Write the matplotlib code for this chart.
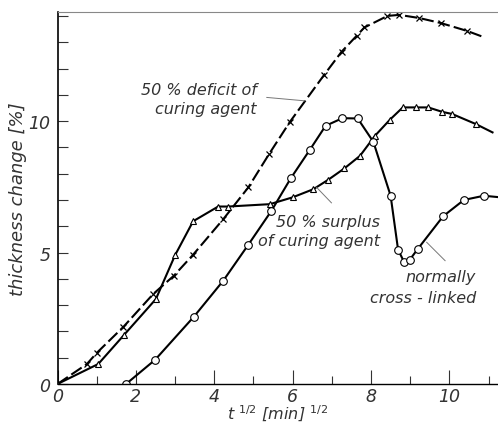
import matplotlib
matplotlib.use("Agg")
import matplotlib.pyplot as plt
from matplotlib.ticker import MultipleLocator

# ---------------------------------------------
# Data
# ---------------------------------------------

# 50 % deficit of curing agent (x markers, dashed); last point is line end only
deficit_x = [0, 0.75, 1.0, 1.68, 2.44, 2.97, 3.45, 4.23, 4.87, 5.4, 5.93,
             6.8, 7.25, 7.63, 7.83, 8.42, 8.72, 9.23, 9.78, 10.45, 10.9]
deficit_y = [0, 0.76, 1.18, 2.17, 3.42, 4.12, 4.9, 6.27, 7.48, 8.75, 9.97,
             11.75, 12.64, 13.24, 13.56, 14.0, 14.04, 13.92, 13.73, 13.43, 13.18]

# 50 % surplus of curing agent (triangles); last point is line end only
surplus_x = [0, 1.04, 1.7, 2.51, 3.0, 3.46, 4.1, 4.36, 5.42, 6.0, 6.53, 6.91,
             7.32, 7.72, 8.1, 8.48, 8.81, 9.14, 9.46, 9.82, 10.07, 10.67, 11.1]
surplus_y = [0, 0.76, 1.87, 3.23, 4.9, 6.19, 6.75, 6.75, 6.84, 7.1, 7.41, 7.77,
             8.2, 8.68, 9.44, 10.05, 10.52, 10.52, 10.52, 10.35, 10.27, 9.89, 9.57]

# normally cross-linked (circles); last point is line end only
normal_x = [1.75, 2.49, 3.48, 4.23, 4.87, 5.46, 5.95, 6.44, 6.84, 7.27, 7.66,
            8.06, 8.5, 8.69, 8.84, 8.99, 9.19, 9.84, 10.37, 10.88, 11.3]
normal_y = [0, 0.92, 2.56, 3.93, 5.3, 6.59, 7.82, 8.91, 9.82, 10.11, 10.1,
            9.21, 7.16, 5.11, 4.65, 4.73, 5.13, 6.38, 7.0, 7.16, 7.1]

x_ticks = [0, 2, 4, 6, 8, 10]
y_ticks = [0, 5, 10]

# ---------------------------------------------
# Figure
# ---------------------------------------------

plt.rcParams["font.family"] = ["DejaVu Sans"]
txt = dict(style="italic", color="#333333", fontweight="light")

fig = plt.figure(figsize=(4.98, 4.27), dpi=100)
ax = fig.add_axes([0.1155, 0.0984, 0.8845, 0.8712])

ax.plot(deficit_x, deficit_y, color="black", lw=1.5, ls=(0, (6, 2)),
        marker="x", ms=4.5, mew=0.9, markevery=list(range(1, len(deficit_x) - 1)))
ax.plot(surplus_x, surplus_y, color="black", lw=1.5,
        marker="^", ms=5, mew=0.8, mfc="white",
        markevery=list(range(0, len(surplus_x) - 1)))
ax.plot(normal_x, normal_y, color="black", lw=1.5,
        marker="o", ms=5.5, mew=0.8, mfc="white",
        markevery=list(range(0, len(normal_x) - 1)))

ax.set_xlim(0, 11.24)
ax.set_ylim(0, 14.15)

ax.set_xticks(x_ticks)
ax.set_yticks(y_ticks)
ax.xaxis.set_minor_locator(MultipleLocator(1))
ax.yaxis.set_minor_locator(MultipleLocator(1))
ax.tick_params(which="both", direction="in", color="#333333", width=0.8)
ax.tick_params(axis="x", which="major", length=10, pad=2)
ax.tick_params(axis="x", which="minor", length=6)
ax.tick_params(axis="y", which="both", length=7, pad=5)
for lab in ax.get_xticklabels() + ax.get_yticklabels():
    lab.set_fontsize(12.5)
    lab.set_style("italic")
    lab.set_color("#333333")

ax.spines["right"].set_visible(False)
ax.spines["top"].set_color("#888888")
ax.spines["top"].set_linewidth(0.8)
ax.spines["left"].set_linewidth(1.2)
ax.spines["bottom"].set_linewidth(1.0)

ax.set_ylabel("thickness change [%]", fontsize=13, labelpad=1, **txt)
ax.set_xlabel(r"t $^{1/2}$ [min] $^{1/2}$", fontsize=11.5, labelpad=-1, **txt)

# curve labels with thin leader lines
ax.text(5.09, 10.84, "50 % deficit of\ncuring agent", fontsize=11.5,
        ha="right", va="center", multialignment="right", linespacing=1.4, **txt)
ax.plot([5.34, 6.31], [10.9, 10.77], color="#777777", lw=0.7)

ax.text(8.23, 5.82, "50 % surplus\nof curing agent", fontsize=11.5,
        ha="right", va="center", multialignment="right", linespacing=1.3, **txt)
ax.plot([6.61, 6.99], [7.48, 6.89], color="#777777", lw=0.7)

ax.text(10.68, 3.69, "normally\ncross - linked", fontsize=11.5,
        ha="right", va="center", multialignment="right", linespacing=1.5, **txt)
ax.plot([9.42, 9.89], [5.39, 4.69], color="#777777", lw=0.7)

fig.savefig("out.png", dpi=100)
plt.close(fig)
